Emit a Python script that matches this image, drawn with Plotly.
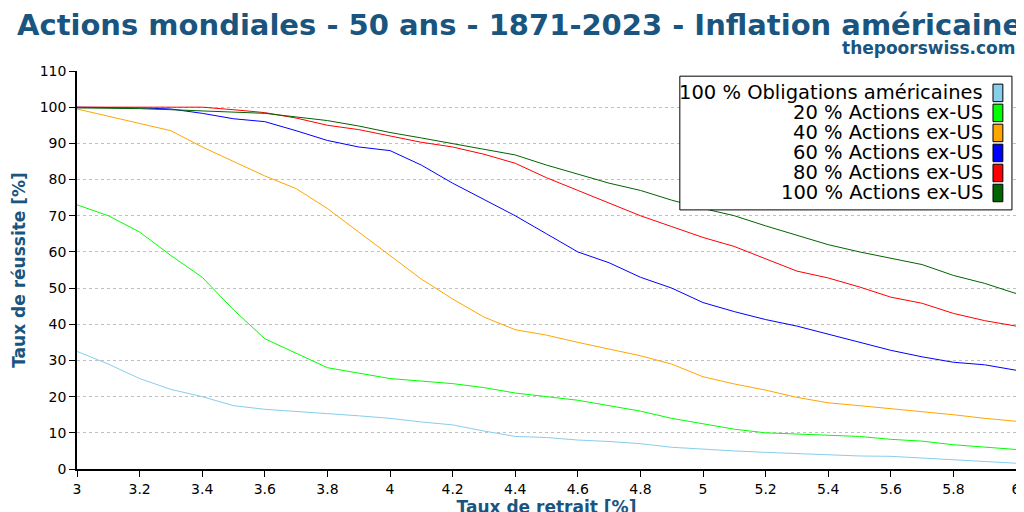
import plotly.graph_objects as go

rates = [round(3 + 0.1 * i, 1) for i in range(31)]
names = ["100 % Obligations américaines", "20 % Actions ex-US", "40 % Actions ex-US",
         "60 % Actions ex-US", "80 % Actions ex-US", "100 % Actions ex-US"]
colors = ["#87CEEB", "#00FF00", "#FFA500", "#0000FF", "#FF0000", "#006400"]
bonds = [32.5,29,25,22,20,17.5,16.5,15.8,15.3,14.7,14,13,12.2,10.5,9,8.7,8,7.6,7,6,5.4,5,4.6,4.2,3.8,3.6,3.5,3,2.6,2.2,1.6]
s20 = [73,70,65.5,59,53,44,36,32,28,26.5,25,24.3,23.6,22.5,21,20,19,17.5,16,14,12.5,11,10,9.7,9.2,9,8.2,7.7,6.7,6,5.4]
s40 = [99.5,97.5,95.5,93.5,89,85,81,77.5,72,65.5,59,52.5,47,42,38.5,37,35,33.2,31.3,29,25.5,23.5,21.8,19.8,18.3,17.5,16.7,16,15,14,13.2]
s60 = [100,100,99.8,99.5,98.3,96.8,96,93.5,90.8,89,88,84,79,74.5,70,65,60,57,53,50,46,43.5,41.3,39.5,37.3,35,32.8,31,29.5,28.8,27.3]
s80 = [100,100,100,100,100,99.3,98.5,97,95,93.8,92,90.3,89,87,84.5,80.5,77,73.5,70,67,64,61.5,58,54.7,52.8,50.3,47.5,45.8,43,41,39.5]
s100 = [99.8,99.8,99.6,99.3,99,98.8,98.3,97.3,96.3,94.8,93,91.5,90,88.5,86.8,84,81.5,79,77,74.3,72,70,67.2,64.5,62,60,58.3,56.5,53.5,51.3,48.5]
series = [bonds, s20, s40, s60, s80, s100]
xticks = [3, 3.2, 3.4, 3.6, 3.8, 4, 4.2, 4.4, 4.6, 4.8, 5, 5.2, 5.4, 5.6, 5.8, 6]
yticks = list(range(0, 111, 10))

blue = "#1a5580"
fig = go.Figure()
for n, c, v in zip(names, colors, series):
    fig.add_trace(go.Scatter(x=rates, y=v, name=n, mode="lines",
                             line=dict(color=c, width=1), showlegend=False))

shapes = [dict(type="rect", xref="paper", yref="paper", x0=0.642, x1=0.9957, y0=0.651, y1=0.987,
               line=dict(color="black", width=1), fillcolor="white", layer="above")]
annotations = [
    dict(text="<b>Actions mondiales - 50 ans - 1871-2023 - Inflation américaine</b>", x=0.471, y=1.0,
         xref="paper", yref="paper", xanchor="center", yanchor="middle", showarrow=False,
         font=dict(size=29, color=blue), yshift=46),
    dict(text="<b>thepoorswiss.com</b>", x=1.002, y=1, xref="paper", yref="paper", xanchor="right",
         yanchor="middle", showarrow=False, font=dict(size=17, color=blue), yshift=23),
]
for i, (n, c) in enumerate(zip(names, colors)):
    yc = 0.945 - i * 0.0503
    shapes.append(dict(type="rect", xref="paper", yref="paper", x0=0.9755, x1=0.986,
                       y0=yc - 0.022, y1=yc + 0.022, fillcolor=c,
                       line=dict(color="black", width=1), layer="above"))
    annotations.append(dict(text=n, x=0.967, y=yc, xref="paper", yref="paper", xanchor="right",
                            yanchor="middle", showarrow=False, font=dict(size=19.5, color="black")))

axis_common = dict(showline=True, linecolor="black", linewidth=1.5, ticks="outside",
                   ticklen=6, tickcolor="black", tickfont=dict(size=14, color="black"),
                   zeroline=False, automargin=False)
fig.update_layout(
    width=1024, height=512, paper_bgcolor="white", plot_bgcolor="white",
    font=dict(family="DejaVu Sans"),
    margin=dict(l=69, r=16, t=63, b=51),
    shapes=shapes, annotations=annotations,
    xaxis=dict(range=[3, 6], tickvals=xticks, ticktext=[str(t) for t in xticks], showgrid=False,
               title=dict(text="<b>Taux de retrait [%]</b>", font=dict(size=17, color=blue), standoff=4),
               **axis_common),
    yaxis=dict(range=[0, 110], tickvals=yticks, showgrid=True, gridcolor="#c0c0c0", griddash="dot",
               title=dict(text="<b>Taux de réussite [%]</b>", font=dict(size=17, color=blue), standoff=10),
               **axis_common),
)
fig.write_html("out.html")
